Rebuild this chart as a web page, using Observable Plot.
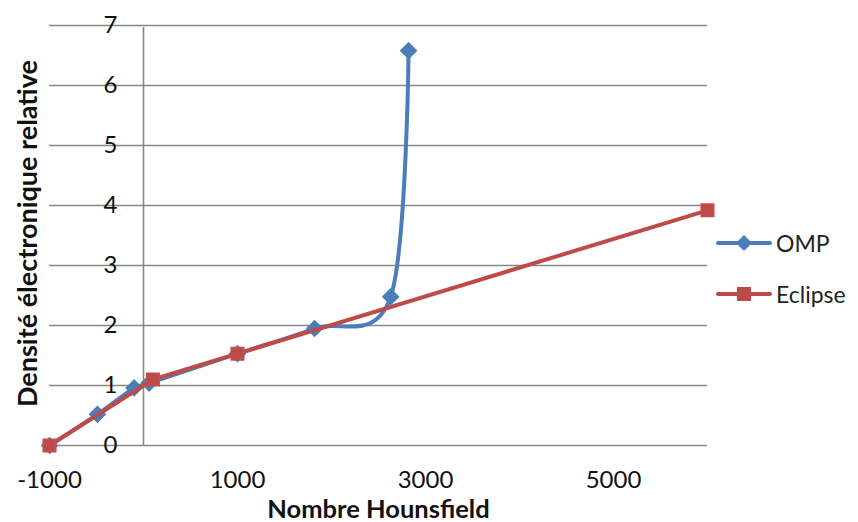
<!DOCTYPE html>
<html>
<head>
<meta charset="utf-8">
<script src="https://cdn.jsdelivr.net/npm/d3@7"></script>
<script src="https://cdn.jsdelivr.net/npm/@observablehq/plot@0.6"></script>
<style>
  html, body { margin: 0; padding: 0; background: #fff; }
  #wrap { position: relative; width: 858px; height: 522px; font-family: Lato, "Liberation Sans", sans-serif; }
  .leg { position: absolute; left: 716px; display: flex; align-items: center; font-size: 23px; color: #222; }
  .leg svg { margin-right: 4px; }
</style>
</head>
<body>
<div id="wrap"></div>
<script>
// Data
const ompX = [-1000, -490, -100, 60, 1000, 1820, 2630, 2820];
const ompY = [0, 0.52, 0.96, 1.04, 1.53, 1.95, 2.48, 6.58];
const eclX = [-1000, 100, 1000, 6000];
const eclY = [0, 1.1, 1.53, 3.92];
const yTicks = [0, 1, 2, 3, 4, 5, 6, 7];
const xTicks = [-1000, 1000, 3000, 5000];
const seriesNames = ["OMP", "Eclipse"];
const colors = ["#4A7EBB", "#BE4B48"];

const omp = ompX.map((x, i) => ({x, y: ompY[i]}));
const ecl = eclX.map((x, i) => ({x, y: eclY[i]}));

const font = "Lato, 'Liberation Sans', sans-serif";

const chart = Plot.plot({
  width: 858,
  height: 522,
  marginLeft: 49,
  marginRight: 151,
  marginTop: 25,
  marginBottom: 77,
  style: {fontFamily: font, background: "#fff", overflow: "visible"},
  x: {domain: [-1000, 6000], axis: null},
  y: {domain: [0, 7], axis: null},
  marks: [
    Plot.ruleY(yTicks, {stroke: "#878787", strokeWidth: 1.6}),
    Plot.ruleX([0], {stroke: "#878787", strokeWidth: 1.6, y1: 0, y2: 7, insetBottom: -2}),
    Plot.text(yTicks, {x: 0, y: d => d, text: d => String(d), dx: -26, textAnchor: "end", fontSize: 24, fill: "#111"}),
    Plot.axisX({ticks: xTicks, tickSize: 0, tickPadding: 25, fontSize: 24, label: null, tickFormat: d => String(d), color: "#111"}),
    Plot.text(["Nombre Hounsfield"], {frameAnchor: "bottom", dy: 72, fontSize: 25.5, fontWeight: "bold", fill: "#111"}),
    Plot.text(["Densité électronique relative"], {frameAnchor: "left", textAnchor: "middle", dx: -21, dy: -2, rotate: -90, fontSize: 27, fontWeight: "bold", fill: "#111"}),
    Plot.line(omp, {x: "x", y: "y", stroke: colors[0], strokeWidth: 4, curve: "cardinal"}),
    Plot.dot(omp, {x: "x", y: "y", symbol: "diamond2", r: 7, fill: colors[0], stroke: colors[0]}),
    Plot.line(ecl, {x: "x", y: "y", stroke: colors[1], strokeWidth: 4}),
    Plot.dot(ecl, {x: "x", y: "y", symbol: "square2", r: 8, fill: colors[1], stroke: "#C0504D"})
  ]
});
const wrap = document.getElementById("wrap");
wrap.appendChild(chart);

// Legend
const legendY = [243, 294];
seriesNames.forEach((name, i) => {
  const d = document.createElement("div");
  d.className = "leg";
  d.style.top = (legendY[i] - 14) + "px";
  const sym = i === 0
    ? `<polygon points="28,6 36,14 28,22 20,14" fill="${colors[0]}"/>`
    : `<rect x="21" y="7" width="14" height="14" fill="${colors[1]}"/>`;
  d.innerHTML = `<svg width="56" height="28"><line x1="2" x2="54" y1="14" y2="14" stroke="${colors[i]}" stroke-width="4" stroke-linecap="round"/>${sym}</svg><span>${name}</span>`;
  wrap.appendChild(d);
});
</script>
</body>
</html>
